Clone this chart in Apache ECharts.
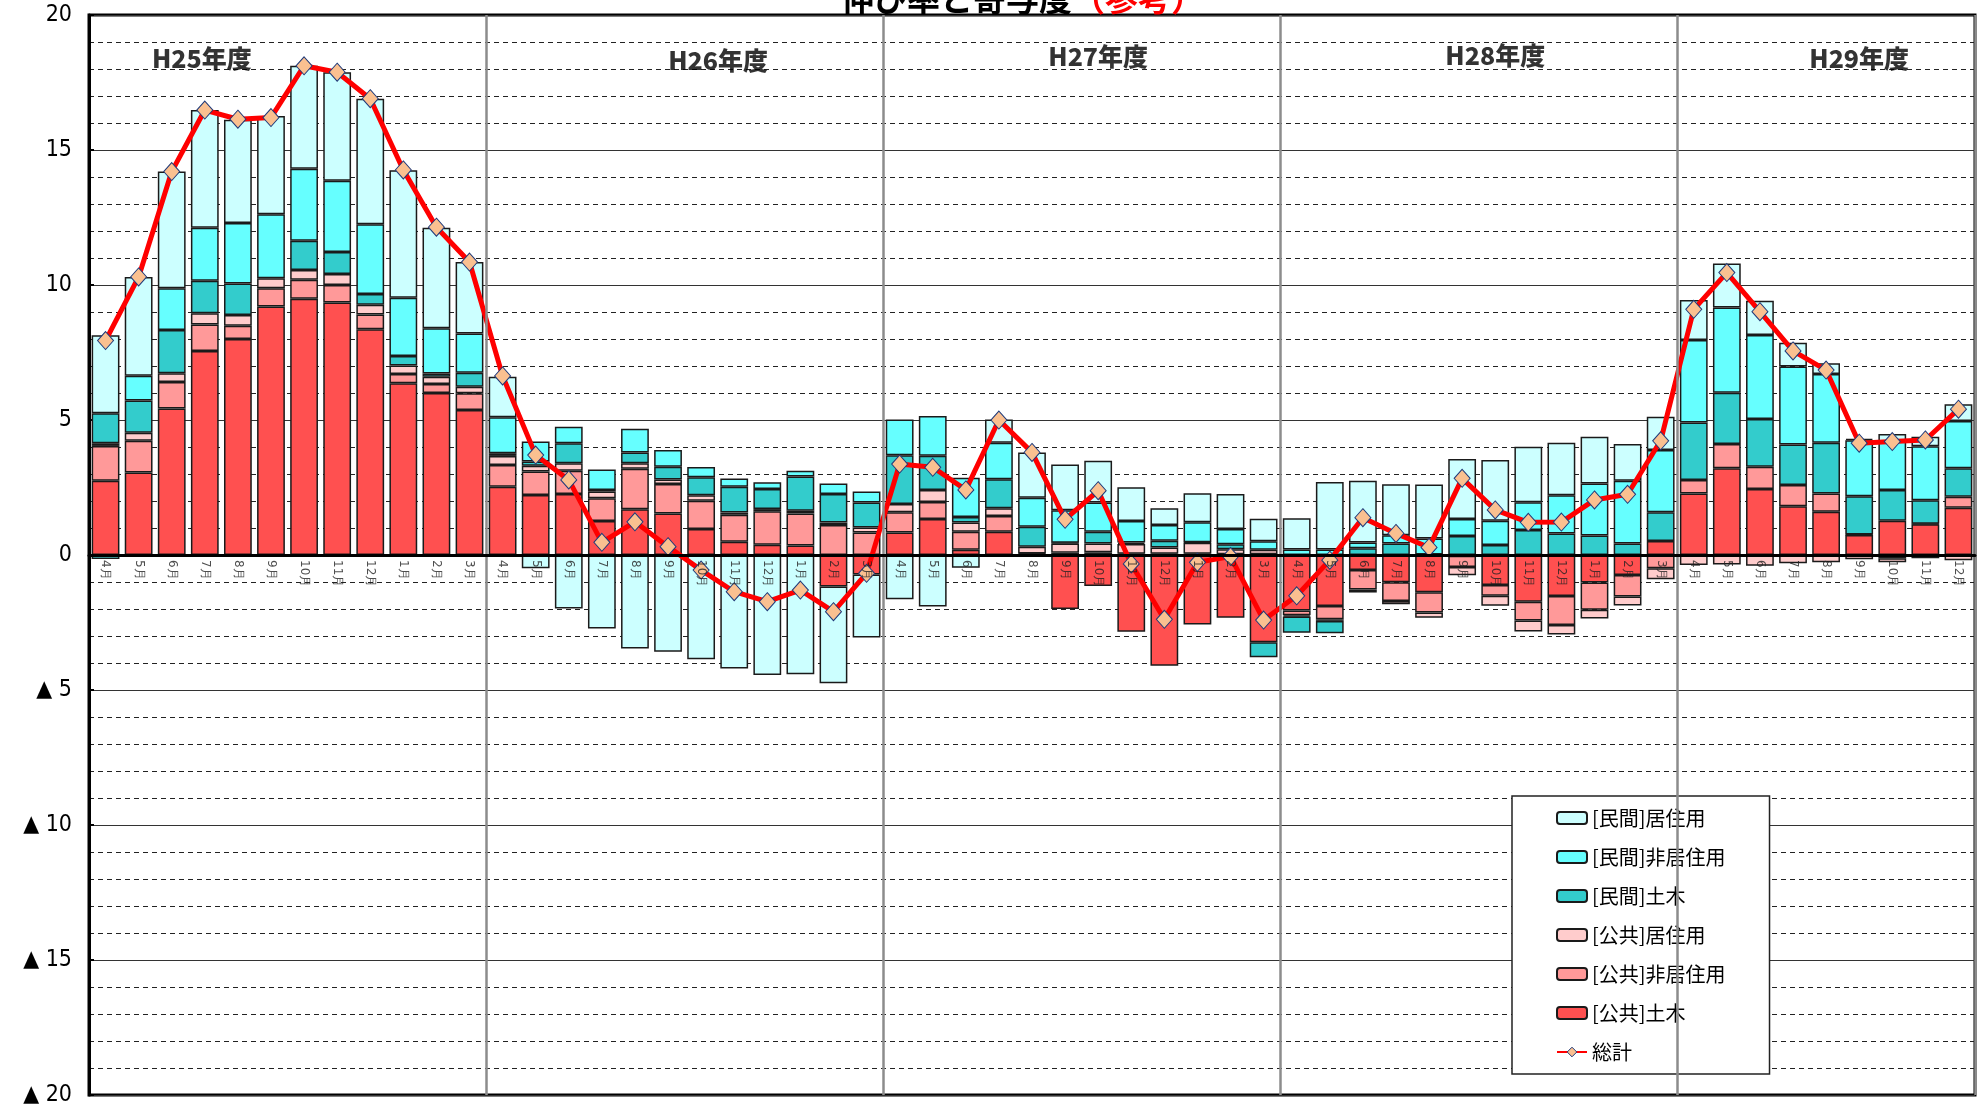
<!DOCTYPE html>
<html>
<head>
<meta charset="utf-8">
<script src="https://cdn.jsdelivr.net/npm/echarts@6/dist/echarts.min.js"></script>
<style>
html,body{margin:0;padding:0;background:#fff;}
#chart{width:1988px;height:1107px;}
</style>
</head>
<body>
<div id="chart"></div>
<script>
// ---- data ----
const fiscalYears = ['H25年度', 'H26年度', 'H27年度', 'H28年度', 'H29年度'];
const monthsPerYear = [12, 12, 12, 12, 9];
const monthNames = ['4月','5月','6月','7月','8月','9月','10月','11月','12月','1月','2月','3月'];
const yTicks = [-20, -15, -10, -5, 0, 5, 10, 15, 20];

// [公共]土木
const pubCivil = [
  2.75, 3.06, 5.43, 7.56, 8.0, 9.2, 9.49, 9.35, 8.36, 6.36, 6.0, 5.37,
  2.53, 2.22, 2.26, 1.26, 1.69, 1.54, 0.96, 0.49, 0.38, 0.35, -1.17, -0.72,
  0.83, 1.33, 0.19, 0.86, 0.03, -2.0, -1.15, -2.84, -4.1, -2.57, -2.32, -3.23,
  -2.06, -1.89, -0.56, -1.01, -1.38, -0.03, -1.11, -1.73, -1.52, -1.02, -0.74, 0.52,
  2.28, 3.21, 2.44, 1.81, 1.6, 0.74, 1.27, 1.14, 1.75
];
// [公共]非居住用
const pubNonRes = [
  1.29, 1.17, 0.98, 0.98, 0.49, 0.68, 0.7, 0.65, 0.55, 0.34, 0.33, 0.62,
  0.8, 0.87, 0.86, 0.84, 1.5, 1.09, 1.05, 1.0, 1.24, 1.19, 1.11, 0.83,
  0.75, 0.63, 0.67, 0.58, 0.03, 0.08, 0.1, 0.05, 0.05, 0.05, 0.03, 0.03,
  -0.17, -0.49, -0.72, -0.69, -0.75, -0.41, -0.4, -0.7, -1.07, -1.01, -0.8, -0.49,
  0.5, 0.9, 0.83, 0.78, 0.68, 0.02, -0.12, 0.02, 0.41
];
// [公共]居住用
const pubRes = [
  0.1, 0.3, 0.32, 0.41, 0.4, 0.37, 0.37, 0.41, 0.36, 0.32, 0.27, 0.24,
  0.34, 0.22, 0.28, 0.25, 0.21, 0.17, 0.2, 0.08, 0.08, 0.1, 0.09, 0.19,
  0.31, 0.45, 0.34, 0.29, 0.25, 0.35, 0.33, 0.36, 0.23, 0.4, 0.18, 0.16,
  -0.05, -0.06, -0.11, -0.12, -0.19, -0.31, -0.37, -0.4, -0.35, -0.32, -0.33, -0.41,
  -0.37, -0.35, -0.4, -0.31, -0.27, -0.16, -0.15, -0.12, -0.19
];
// [民間]土木
const prvCivil = [
  1.11, 1.19, 1.6, 1.21, 1.17, -0.05, 1.08, 0.81, 0.4, 0.35, 0.12, 0.52,
  0.1, 0.15, 0.74, 0.06, 0.4, 0.47, 0.67, 0.96, 0.74, 1.27, 1.06, 0.92,
  1.8, 1.27, 0.21, 1.08, 0.74, 0.02, 0.43, 0.05, 0.25, 0.02, 0.19, -0.56,
  -0.6, -0.46, 0.25, 0.43, 0.02, 0.7, 0.37, 0.93, 0.8, 0.72, 0.43, 1.06,
  2.13, 1.9, 1.77, 1.5, 1.88, 1.42, 1.14, 0.87, 1.05
];
// [民間]非居住用
const prvNonRes = [
  -0.15, 0.92, 1.55, 1.96, 2.24, 2.37, 2.67, 2.64, 2.58, 2.16, 1.68, 1.45,
  1.33, 0.74, 0.61, 0.76, 0.88, 0.62, 0.38, 0.3, 0.25, 0.21, 0.39, 0.41,
  1.33, 1.47, 1.45, 1.35, 1.07, 1.21, 1.08, 0.8, 0.58, 0.74, 0.56, 0.32,
  0.2, 0.2, 0.21, 0.3, 0.59, 0.63, 0.9, 1.02, 1.41, 1.93, 2.32, 2.31,
  3.05, 3.16, 3.11, 2.89, 2.54, 2.07, 1.79, 2.0, 1.75
];
// [民間]居住用
const prvRes = [
  2.89, 3.66, 4.32, 4.36, 3.82, 3.64, 3.81, 4.02, 4.65, 4.72, 3.72, 2.65,
  1.5, -0.49, -1.98, -2.72, -3.46, -3.58, -3.86, -4.2, -4.44, -4.42, -3.58, -2.34,
  -1.64, -1.91, -0.47, 0.86, 1.68, 1.69, 1.55, 1.25, 0.62, 1.08, 1.3, 0.83,
  1.16, 2.5, 2.29, 1.89, 2.0, 2.23, 2.25, 2.06, 1.95, 1.73, 1.36, 1.23,
  1.48, 1.63, 1.27, 0.88, 0.4, 0.05, 0.28, 0.35, 0.62
];
// 総計
const total = [
  7.94, 10.3, 14.2, 16.48, 16.14, 16.2, 18.12, 17.88, 16.9, 14.26, 12.14, 10.85,
  6.63, 3.7, 2.78, 0.47, 1.23, 0.31, -0.56, -1.36, -1.73, -1.3, -2.1, -0.68,
  3.37, 3.25, 2.41, 5.0, 3.8, 1.32, 2.38, -0.33, -2.38, -0.27, -0.06, -2.41,
  -1.51, -0.19, 1.38, 0.8, 0.28, 2.84, 1.67, 1.21, 1.22, 2.04, 2.25, 4.23,
  9.1, 10.46, 9.01, 7.56, 6.85, 4.14, 4.2, 4.26, 5.4
];
// year label anchors: category index and value height
const yearLabelIndex = [3, 18, 30, 42, 53];
const yearLabelValue = [18.4, 18.3, 18.45, 18.5, 18.4];

// ---- build categories ----
const categories = [];
const monthLabels = [];
fiscalYears.forEach((fy, i) => {
  for (let m = 0; m < monthsPerYear[i]; m++) {
    categories.push(fy + '-' + monthNames[m]);
    monthLabels.push(monthNames[m]);
  }
});
const yearStarts = [];
{ let acc = 0; monthsPerYear.forEach(n => { yearStarts.push(acc); acc += n; }); }

const chart = echarts.init(document.getElementById('chart'));

const barBorder = { borderColor: '#1a1a1a', borderWidth: 1.5 };
function barSeries(name, data, color) {
  return {
    name: name, type: 'bar', stack: 'all', data: data,
    barWidth: '84%',
    itemStyle: Object.assign({ color: color }, barBorder),
    emphasis: { disabled: true }
  };
}

const option = {
  animation: false,
  backgroundColor: '#fff',
  title: {
    text: '{b|伸び率と寄与度}{r|（参考）}',
    left: 836, top: -23,
    textStyle: {
      rich: {
        b: { fontSize: 33, fontWeight: 'bold', color: '#000', fontFamily: 'Noto Sans CJK JP' },
        r: { fontSize: 33, fontWeight: 'bold', color: '#ff0000', fontFamily: 'Noto Sans CJK JP' }
      }
    }
  },
  grid: {
    left: 89, right: 13, top: 15, bottom: 12,
    show: true, borderColor: '#000', borderWidth: 3, backgroundColor: 'transparent'
  },
  legend: {
    orient: 'vertical',
    left: 1512, top: 796,
    data: ['[民間]居住用', '[民間]非居住用', '[民間]土木', '[公共]居住用', '[公共]非居住用', '[公共]土木',
      { name: '総計', itemStyle: { color: '#fac090', borderColor: '#1f3a7a', borderWidth: 1 } }],
    backgroundColor: '#fff',
    borderColor: '#222', borderWidth: 1.5,
    padding: [11, 44, 11, 44],
    itemWidth: 30, itemHeight: 12, itemGap: 17,
    textStyle: { fontSize: 20, color: '#000', fontFamily: 'Noto Sans CJK JP', lineHeight: 22 }
  },
  xAxis: {
    type: 'category',
    data: categories,
    z: 10,
    axisLine: { onZero: true, lineStyle: { color: '#000', width: 3 } },
    axisTick: { show: false },
    axisLabel: { show: false },
    splitLine: {
      show: true,
      interval: (idx) => yearStarts.indexOf(idx) > 0,
      lineStyle: { color: '#8c8c8c', width: 2.5 }
    }
  },
  yAxis: {
    type: 'value',
    min: yTicks[0], max: yTicks[yTicks.length - 1], interval: 5,
    axisLine: { show: true, lineStyle: { color: '#000', width: 3 } },
    axisTick: { show: true, inside: true, length: 5, lineStyle: { color: '#000', width: 2 } },
    minorTick: { show: false, splitNumber: 5 },
    axisLabel: {
      fontSize: 23, color: '#000', margin: 17,
      fontFamily: 'Liberation Sans Narrow, DejaVu Sans Condensed, sans-serif',
      formatter: (v) => v < 0 ? '▲ ' + (-v) : String(v)
    },
    splitLine: { show: true, lineStyle: { color: '#333', width: 1.2 } },
    minorSplitLine: { show: true, lineStyle: { color: '#222', width: 1, type: [5, 4] } }
  },
  series: [
    barSeries('[公共]土木', pubCivil, '#ff5050'),
    barSeries('[公共]非居住用', pubNonRes, '#ff9999'),
    barSeries('[公共]居住用', pubRes, '#ffcccc'),
    barSeries('[民間]土木', prvCivil, '#33cccc'),
    barSeries('[民間]非居住用', prvNonRes, '#66ffff'),
    barSeries('[民間]居住用', prvRes, '#ccffff'),
    {
      name: '総計', type: 'line', data: total,
      z: 5,
      lineStyle: { color: '#ff0000', width: 5 },
      itemStyle: { color: '#fac090', borderColor: '#1f3a7a', borderWidth: 1 },
      symbol: 'diamond', symbolSize: [16, 18], showAllSymbol: true,
      emphasis: { disabled: true }
    },
    {
      name: 'yearLabels', type: 'scatter', z: 6,
      symbolSize: 0,
      data: yearLabelIndex.map((ix, i) => ({
        value: [ix, yearLabelValue[i]],
        label: { offset: i === 1 ? [17, 0] : (i === 0 ? [-3, 0] : [0, 0]) }
      })),
      label: {
        show: true, position: 'inside',
        formatter: (p) => fiscalYears[p.dataIndex],
        fontSize: 25, fontWeight: 900, color: '#000',
        fontFamily: 'Noto Sans CJK JP'
      },
      emphasis: { disabled: true },
      silent: true
    },
    {
      name: 'monthLabels', type: 'scatter', z: 7,
      symbolSize: 0,
      data: monthLabels.map((m, i) => [i, 0]),
      label: {
        show: true, position: 'bottom', distance: 5,
        rotate: -90, align: 'left', verticalAlign: 'middle',
        formatter: (p) => monthLabels[p.dataIndex],
        fontSize: 12, color: '#222', fontFamily: 'DejaVu Sans'
      },
      emphasis: { disabled: true },
      silent: true
    }
  ]
};
chart.setOption(option);
</script>
</body>
</html>
